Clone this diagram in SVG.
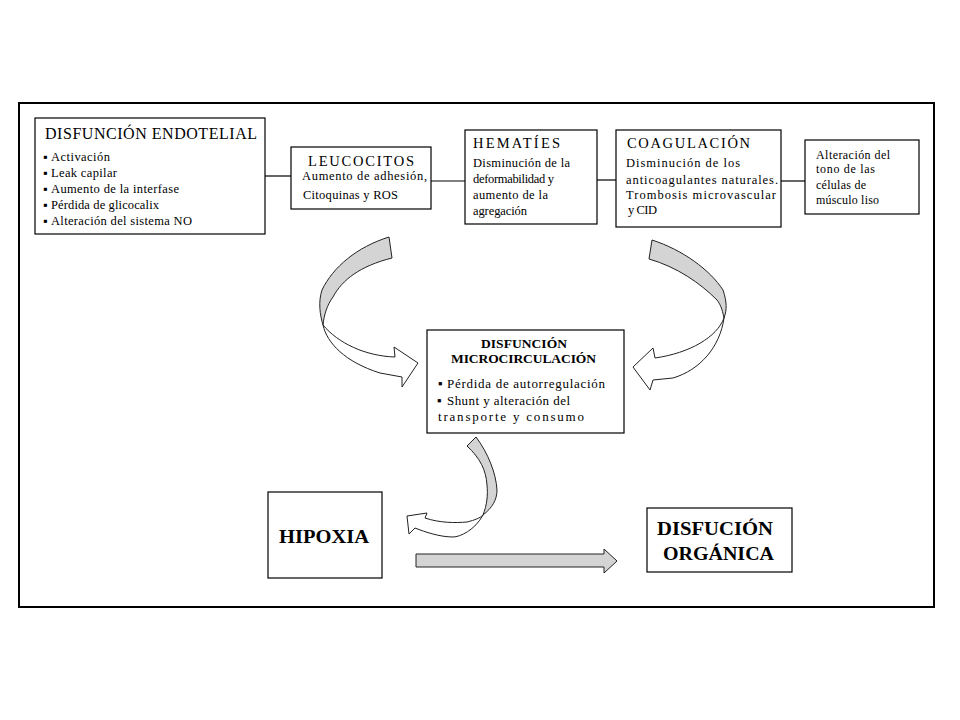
<svg xmlns="http://www.w3.org/2000/svg" width="960" height="720" viewBox="0 0 960 720">
<style>
.box{fill:#fff;stroke:#000;stroke-width:1.2}
.t{font-family:"Liberation Serif","Times New Roman",serif;fill:#000}
.s{font-size:12.5px}
.b{font-weight:bold}
.gray{fill:#d4d4d4;stroke:#222;stroke-width:1}
.white{fill:#fff;stroke:#222;stroke-width:1}
.conn{stroke:#000;stroke-width:1.2;fill:none}
</style>
<rect width="960" height="720" fill="#fff"/>
<rect x="19" y="103" width="915" height="504" fill="none" stroke="#000" stroke-width="2"/>
<g id="connectors">
<line class="conn" x1="265" y1="176" x2="291" y2="176"/>
<line class="conn" x1="431" y1="181" x2="465" y2="181"/>
<line class="conn" x1="597" y1="180" x2="616" y2="180"/>
<line class="conn" x1="781" y1="181" x2="805" y2="181"/>
<g id="curved-left">
<path class="white" d="M323 325 C327 343 345 362 380 373 L402 377 L402 387 L418 363 L394 347 L395 357 C365 356 338 343 323 325 Z"/>
<path class="gray" d="M389 237 C357 247 333 267 322 290 C318 302 320 315 323 325 C324 315 327 305 333 297 C342 280 360 266 392 258 Z"/>
</g>
<g id="curved-right">
<path class="white" d="M724 318 C720 347 700 370 673 378 L653 380 L650 390 L633 367 L653 348 L655 358 C690 353 717 337 724 318 Z"/>
<path class="gray" d="M652 240 C683 250 710 270 723 290 C727 302 727 310 724 318 C722 308 720 304 717 300 C700 283 677 267 649 259 Z"/>
</g>
<g id="curved-bottom">
<path class="white" d="M483 515 C475 530 460 537 453 537 C440 537 425 532 415 528 L409 534 L407 516 L427 513 L425 518 C440 523 455 523 467 522 C475 520 480 518 483 515 Z"/>
<path class="gray" d="M476 437 C488 453 496 473 497 490 C497 500 492 508 483 515 C487 505 488 495 487 485 C486 470 480 458 467 446 Z"/>
</g>
<path id="straight-arrow" class="gray" d="M416 554 L604 554 L604 549 L617 561 L604 573 L604 567 L416 567 Z"/>
</g>
<g id="endotelial">
<rect class="box" x="35" y="118" width="230" height="116"/>
<text class="t" font-size="16" x="45" y="139" textLength="212" lengthAdjust="spacing">DISFUNCIÓN ENDOTELIAL</text>
<g class="t s">
<text x="43" y="161">▪</text>
<text x="43" y="177">▪</text>
<text x="43" y="193">▪</text>
<text x="43" y="209">▪</text>
<text x="43" y="225">▪</text>
<text x="51" y="161" textLength="59" lengthAdjust="spacing">Activación</text>
<text x="51" y="177" textLength="66" lengthAdjust="spacing">Leak capilar</text>
<text x="51" y="193" textLength="128" lengthAdjust="spacing">Aumento de la interfase</text>
<text x="51" y="209" textLength="108" lengthAdjust="spacing">Pérdida de glicocalix</text>
<text x="51" y="225" textLength="141" lengthAdjust="spacing">Alteración del sistema NO</text>
</g>
</g>
<g id="leucocitos">
<rect class="box" x="291" y="147" width="140" height="62"/>
<text class="t" font-size="14.5" x="308" y="166" textLength="106" lengthAdjust="spacing">LEUCOCITOS</text>
<text class="t s" x="302" y="180" textLength="125" lengthAdjust="spacing">Aumento de adhesión,</text>
<text class="t s" x="303" y="199" textLength="95" lengthAdjust="spacing">Citoquinas y ROS</text>
</g>
<g id="hematies">
<rect class="box" x="465" y="130" width="132" height="94"/>
<text class="t" font-size="14.5" x="473" y="148" textLength="87" lengthAdjust="spacing">HEMATÍES</text>
<g class="t s">
<text x="473" y="167" textLength="97" lengthAdjust="spacing">Disminución de la</text>
<text x="473" y="183" textLength="81" lengthAdjust="spacing">deformabilidad y</text>
<text x="473" y="199" textLength="75" lengthAdjust="spacing">aumento de la</text>
<text x="473" y="215" textLength="54" lengthAdjust="spacing">agregación</text>
</g>
</g>
<g id="coagulacion">
<rect class="box" x="616" y="130" width="165" height="97"/>
<text class="t" font-size="14.5" x="627" y="148" textLength="123" lengthAdjust="spacing">COAGULACIÓN</text>
<g class="t s">
<text x="626" y="167" textLength="114" lengthAdjust="spacing">Disminución de los</text>
<text x="626" y="184" textLength="152" lengthAdjust="spacing">anticoagulantes naturales.</text>
<text x="626" y="199" textLength="150" lengthAdjust="spacing">Trombosis microvascular</text>
<text x="628" y="214" textLength="29" lengthAdjust="spacing">y CID</text>
</g>
</g>
<g id="musculo">
<rect class="box" x="805" y="140" width="114" height="74"/>
<g class="t" font-size="12">
<text x="816" y="159" textLength="74" lengthAdjust="spacing">Alteración del</text>
<text x="816" y="173" textLength="59" lengthAdjust="spacing">tono de las</text>
<text x="816" y="189" textLength="50" lengthAdjust="spacing">células de</text>
<text x="816" y="204" textLength="63" lengthAdjust="spacing">músculo liso</text>
</g>
</g>
<g id="microcirculacion">
<rect class="box" x="427" y="330" width="197" height="103"/>
<text class="t b" font-size="13.5" x="481" y="348" textLength="86" lengthAdjust="spacing">DISFUNCIÓN</text>
<text class="t b" font-size="13.5" x="451" y="363" textLength="145" lengthAdjust="spacing">MICROCIRCULACIÓN</text>
<g class="t" font-size="13">
<text x="438" y="388">▪</text>
<text x="437" y="405">▪</text>
<text x="447" y="388" textLength="158" lengthAdjust="spacing">Pérdida de autorregulación</text>
<text x="447" y="405" textLength="123" lengthAdjust="spacing">Shunt y alteración del</text>
<text x="438" y="421" textLength="146" lengthAdjust="spacing">transporte y consumo</text>
</g>
</g>
<g id="hipoxia">
<rect class="box" x="268" y="492" width="114" height="86"/>
<text class="t b" font-size="19" x="279" y="543" textLength="90" lengthAdjust="spacingAndGlyphs">HIPOXIA</text>
</g>
<g id="organica">
<rect class="box" x="647" y="508" width="145" height="64"/>
<text class="t b" font-size="19" x="657" y="535" textLength="116" lengthAdjust="spacingAndGlyphs">DISFUCIÓN</text>
<text class="t b" font-size="19" x="663" y="560" textLength="111" lengthAdjust="spacingAndGlyphs">ORGÁNICA</text>
</g>
</svg>
